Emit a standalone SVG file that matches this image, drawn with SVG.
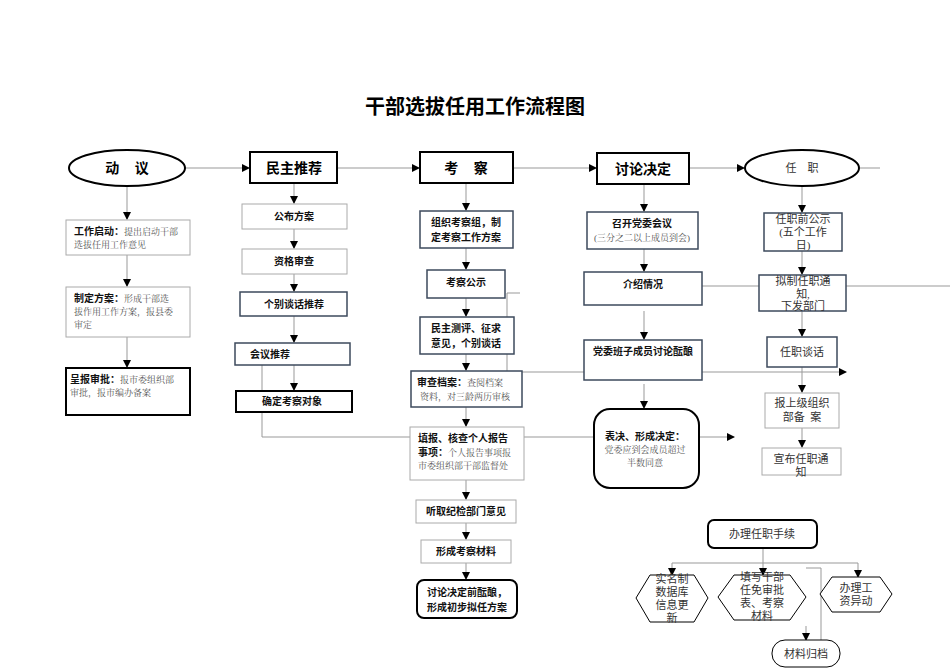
<svg xmlns="http://www.w3.org/2000/svg" width="950" height="672" viewBox="0 0 950 672">
<style>
.t{font-family:"Liberation Sans","Noto Sans CJK SC",sans-serif;font-size:10px;font-weight:bold;fill:#111;text-anchor:middle}
.h{font-family:"Liberation Sans","Noto Sans CJK SC",sans-serif;font-size:14px;font-weight:bold;fill:#000;text-anchor:middle}
.s{font-family:"Liberation Serif","Noto Serif CJK SC","Noto Sans CJK SC",serif;font-size:9px;fill:#555}
.r{font-family:"Liberation Serif","Noto Sans CJK SC",serif;font-size:11px;fill:#333;text-anchor:middle}
.g{fill:#fff;stroke:#aaa;stroke-width:1}
.b{fill:#fff;stroke:#3d4a5c;stroke-width:1.5}
.k{fill:#fff;stroke:#000;stroke-width:2}
.c line,.c polyline{stroke:#999;stroke-width:1;fill:none}
</style>
<defs><marker id="a" markerWidth="8" markerHeight="8" refX="7" refY="4" orient="auto" markerUnits="userSpaceOnUse"><path d="M0,0L8,4L0,8z" fill="#000"/></marker></defs>
<text x="475" y="114" font-family="Liberation Serif,Noto Sans CJK SC,serif" font-size="20" font-weight="bold" text-anchor="middle">干部选拔任用工作流程图</text>
<g class="c">
<line x1="185" y1="168" x2="249" y2="168" marker-end="url(#a)"/>
<line x1="337" y1="168" x2="419" y2="168" marker-end="url(#a)"/>
<line x1="513" y1="168" x2="596" y2="168" marker-end="url(#a)"/>
<line x1="689" y1="168" x2="744" y2="168" marker-end="url(#a)"/>
<line x1="860" y1="168" x2="880" y2="168"/>
<line x1="127" y1="186" x2="127" y2="219" marker-end="url(#a)"/>
<line x1="127" y1="255" x2="127" y2="286" marker-end="url(#a)"/>
<line x1="127" y1="337" x2="127" y2="367" marker-end="url(#a)"/>
<line x1="294" y1="183" x2="294" y2="203" marker-end="url(#a)"/>
<line x1="294" y1="229" x2="294" y2="248" marker-end="url(#a)"/>
<line x1="294" y1="274" x2="294" y2="291" marker-end="url(#a)"/>
<line x1="294" y1="316" x2="294" y2="342" marker-end="url(#a)"/>
<line x1="294" y1="365" x2="294" y2="390" marker-end="url(#a)"/>
<polyline points="262,365 262,437 734,437" marker-end="url(#a)"/>
<line x1="466" y1="183" x2="466" y2="210" marker-end="url(#a)"/>
<line x1="466" y1="248" x2="466" y2="269" marker-end="url(#a)"/>
<line x1="466" y1="298" x2="466" y2="316" marker-end="url(#a)"/>
<line x1="466" y1="354" x2="466" y2="370" marker-end="url(#a)"/>
<line x1="466" y1="407" x2="466" y2="426" marker-end="url(#a)"/>
<line x1="466" y1="480" x2="466" y2="499" marker-end="url(#a)"/>
<line x1="466" y1="523" x2="466" y2="539" marker-end="url(#a)"/>
<line x1="466" y1="563" x2="466" y2="579" marker-end="url(#a)"/>
<polyline points="520,293 507,293 507,372 846,372" marker-end="url(#a)"/>
<line x1="644" y1="184" x2="644" y2="211" marker-end="url(#a)"/>
<line x1="644" y1="249" x2="644" y2="271" marker-end="url(#a)"/>
<line x1="644" y1="311" x2="644" y2="339" marker-end="url(#a)"/>
<line x1="644" y1="384" x2="644" y2="408" marker-end="url(#a)"/>
<line x1="640" y1="286" x2="950" y2="286"/>
<line x1="802" y1="186" x2="802" y2="212" marker-end="url(#a)"/>
<line x1="802" y1="251" x2="802" y2="274" marker-end="url(#a)"/>
<line x1="802" y1="311" x2="802" y2="336" marker-end="url(#a)"/>
<line x1="802" y1="367" x2="802" y2="392" marker-end="url(#a)"/>
<line x1="802" y1="428" x2="802" y2="447" marker-end="url(#a)"/>
<polyline points="763,548 763,563"/>
<polyline points="672,563 858,563"/>
<line x1="672" y1="563" x2="672" y2="575" marker-end="url(#a)"/>
<line x1="763" y1="563" x2="763" y2="575" marker-end="url(#a)"/>
<line x1="858" y1="563" x2="858" y2="577" marker-end="url(#a)"/>
<polyline points="806,568 821,568 821,664"/>
<line x1="806" y1="626" x2="806" y2="640" marker-end="url(#a)"/>
</g>
<g id="n1"><ellipse cx="127" cy="168" rx="58" ry="18" fill="#fff" stroke="#000" stroke-width="2"/><text class="h" x="127" y="173" xml:space="preserve">动    议</text></g>
<g id="n2"><rect class="k" x="250" y="152" width="87" height="31"/><text class="h" x="294" y="173">民主推荐</text></g>
<g id="n3"><rect class="k" x="420" y="152" width="93" height="31"/><text class="h" x="466" y="173" xml:space="preserve">考    察</text></g>
<g id="n4"><rect class="k" x="597" y="153" width="92" height="31"/><text class="h" x="643" y="174">讨论决定</text></g>
<g id="n5"><ellipse cx="802" cy="168" rx="57" ry="18" fill="#fff" stroke="#000" stroke-width="2"/><text class="r" x="802" y="172" xml:space="preserve">任    职</text></g>
<g id="a1"><rect class="g" x="66" y="220" width="124" height="35"/><text x="74" y="235" class="s"><tspan class="t" style="text-anchor:start">工作启动：</tspan>提出启动干部</text><text x="74" y="248" class="s">选拔任用工作意见</text></g>
<g id="a2"><rect class="g" x="66" y="287" width="124" height="50"/><text x="74" y="302" class="s"><tspan class="t" style="text-anchor:start">制定方案：</tspan>形成干部选</text><text x="74" y="315" class="s">拔作用工作方案，报县委</text><text x="74" y="328" class="s">审定</text></g>
<g id="a3"><rect class="k" x="66" y="368" width="124" height="47" stroke-width="1.5"/><text x="70" y="383" class="s"><tspan class="t" style="text-anchor:start">呈报审批：</tspan>报市委组织部</text><text x="70" y="396" class="s">审批，报市编办备案</text></g>
<g id="b1"><rect class="g" x="242" y="204" width="105" height="25"/><text class="t" x="294" y="220">公布方案</text></g>
<g id="b2"><rect class="g" x="242" y="249" width="105" height="25"/><text class="t" x="294" y="265">资格审查</text></g>
<g id="b3"><rect class="b" x="240" y="292" width="107" height="24"/><text class="t" x="294" y="308">个别谈话推荐</text></g>
<g id="b4"><rect class="b" x="235" y="343" width="115" height="22"/><text class="t" x="270" y="358">会议推荐</text></g>
<g id="b5"><rect class="k" x="236" y="391" width="116" height="21"/><text class="t" x="292" y="405">确定考察对象</text></g>
<g id="c1"><rect class="b" x="420" y="211" width="93" height="37"/><text class="t" x="466" y="226">组织考察组，制</text><text class="t" x="466" y="241">定考察工作方案</text></g>
<g id="c2"><rect class="b" x="427" y="270" width="78" height="28"/><text class="t" x="466" y="286">考察公示</text></g>
<g id="c3"><rect class="b" x="420" y="317" width="94" height="37"/><text class="t" x="466" y="332">民主测评、征求</text><text class="t" x="466" y="347">意见，个别谈话</text></g>
<g id="c4"><rect class="b" x="411" y="371" width="111" height="36"/><text x="417" y="386" class="s"><tspan class="t" style="text-anchor:start">审查档案：</tspan>查阅档案</text><text x="420" y="400" class="s">资料，对三龄两历审核</text></g>
<g id="c5"><rect class="g" x="410" y="427" width="114" height="53"/><text x="418" y="442" class="t" style="text-anchor:start">填报、核查个人报告</text><text x="418" y="456" class="s"><tspan class="t" style="text-anchor:start">事项：</tspan>个人报告事项报</text><text x="418" y="469" class="s">市委组织部干部监督处</text></g>
<g id="c6"><rect class="g" x="416" y="500" width="100" height="23"/><text class="t" x="466" y="515">听取纪检部门意见</text></g>
<g id="c7"><rect class="g" x="421" y="540" width="90" height="23"/><text class="t" x="466" y="555">形成考察材料</text></g>
<g id="c8"><rect class="k" x="417" y="580" width="100" height="38" rx="7"/><text class="t" x="467" y="596">讨论决定前酝酿，</text><text class="t" x="467" y="611">形成初步拟任方案</text></g>
<g id="d1"><rect class="b" x="587" y="212" width="111" height="37"/><text class="t" x="642" y="227">召开党委会议</text><text class="s" x="642" y="241" text-anchor="middle">(三分之二以上成员到会)</text></g>
<g id="d2"><rect class="b" x="584" y="272" width="118" height="33"/><text class="t" x="643" y="288">介绍情况</text></g>
<g id="d3"><rect class="b" x="584" y="340" width="118" height="40"/><text class="t" x="643" y="355">党委班子成员讨论酝酿</text></g>
<g id="d4"><rect class="k" x="594" y="409" width="105" height="79" rx="16"/><text class="t" x="645" y="440">表决、形成决定：</text><text class="s" x="645" y="453" text-anchor="middle">党委应到会成员超过</text><text class="s" x="645" y="466" text-anchor="middle">半数同意</text></g>
<g id="e1"><rect class="b" x="764" y="213" width="78" height="38"/><text class="r" x="803" y="223">任职前公示</text><text class="r" x="803" y="236">(五个工作</text><text class="r" x="803" y="249">日)</text></g>
<g id="e2"><rect class="b" x="759" y="275" width="87" height="36"/><text class="r" x="803" y="285">拟制任职通</text><text class="r" x="803" y="298">知,</text><text class="r" x="803" y="310">下发部门</text></g>
<g id="e3"><rect class="b" x="767" y="337" width="70" height="30"/><text class="r" x="802" y="356">任职谈话</text></g>
<g id="e4"><rect class="g" x="765" y="393" width="74" height="35"/><text class="r" x="802" y="407">报上级组织</text><text class="r" x="802" y="421" xml:space="preserve">部备  案</text></g>
<g id="e5"><rect class="g" x="762" y="448" width="79" height="27"/><text class="r" x="801" y="463">宣布任职通</text><text class="r" x="801" y="476">知</text></g>
<g id="f0"><rect class="k" x="708" y="520" width="109" height="28" rx="6" stroke-width="1.5"/><text class="r" x="762" y="538" style="font-family:Liberation Sans,Noto Sans CJK SC,sans-serif">办理任职手续</text></g>
<g id="f1"><polygon points="636,598 650,575 694,575 708,598 694,622 650,622" fill="#fff" stroke="#000"/><text class="r" x="672" y="583">实名制</text><text class="r" x="672" y="596">数据库</text><text class="r" x="672" y="609">信息更</text><text class="r" x="672" y="622">新</text></g>
<g id="f2"><polygon points="718,597 734,575 790,575 806,597 790,620 734,620" fill="#fff" stroke="#000"/><text class="r" x="762" y="581">填写干部</text><text class="r" x="762" y="594">任免审批</text><text class="r" x="762" y="607">表、考察</text><text class="r" x="762" y="620">材料</text></g>
<g id="f3"><polygon points="820,594 832,577 880,577 892,594 880,612 832,612" fill="#fff" stroke="#000"/><text class="r" x="856" y="592">办理工</text><text class="r" x="856" y="605">资异动</text></g>
<g id="f4"><rect x="772" y="640" width="68" height="27" rx="13" fill="#fff" stroke="#000"/><text class="r" x="806" y="658">材料归档</text></g>
</svg>
